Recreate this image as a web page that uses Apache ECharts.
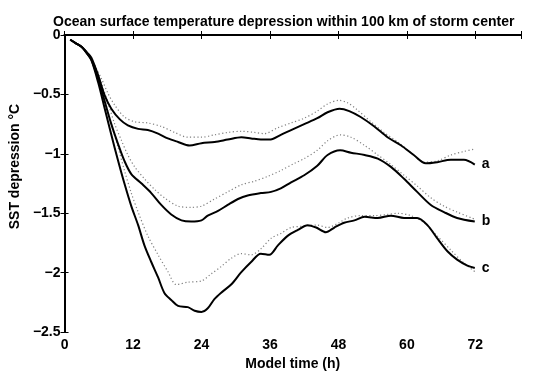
<!DOCTYPE html>
<html>
<head>
<meta charset="utf-8">
<script src="https://cdn.jsdelivr.net/npm/echarts@6/dist/echarts.min.js"></script>
<style>html,body{margin:0;padding:0;background:#fff}#c{width:541px;height:376px}</style>
</head>
<body>
<div id="c"></div>
<script>
var titleText = 'Ocean surface temperature depression within 100 km of storm center';
var xName = 'Model time (h)';
var yName = 'SST depression \u00B0C';
var xTicks = [0, 12, 24, 36, 48, 60, 72];
var yTicks = [0, -0.5, -1, -1.5, -2, -2.5];
var curveLabels = ['a', 'b', 'c'];

// [time (h), SST depression (°C)]
var aSolid = [[1,-0.04],[2,-0.07],[3,-0.10],[4,-0.15],[4.7,-0.19],[5.9,-0.34],[7.05,-0.51],[8.2,-0.62],[9.7,-0.71],[11.1,-0.76],[12.9,-0.79],[14.6,-0.80],[16.4,-0.83],[18.1,-0.87],[19.9,-0.90],[21.9,-0.93],[24,-0.91],[26.3,-0.90],[28.6,-0.88],[31,-0.86],[32.7,-0.87],[34.4,-0.88],[35.9,-0.88],[37.9,-0.84],[39.7,-0.80],[42,-0.75],[44.3,-0.70],[46.1,-0.65],[48.2,-0.62],[49.9,-0.64],[51.9,-0.69],[54.3,-0.77],[56.6,-0.86],[59,-0.93],[61.2,-1.01],[63.3,-1.08],[65.3,-1.07],[67.7,-1.05],[70,-1.05],[71.9,-1.09]];
var aDotted = [[1,-0.04],[2,-0.07],[3,-0.10],[4,-0.15],[5.3,-0.26],[6.5,-0.37],[7.6,-0.49],[8.8,-0.59],[10.5,-0.69],[12.3,-0.73],[14.6,-0.74],[17,-0.77],[19.3,-0.82],[21.6,-0.86],[24,-0.86],[26.3,-0.84],[28.6,-0.82],[31,-0.81],[33.3,-0.82],[35,-0.83],[37.4,-0.78],[39.7,-0.74],[42,-0.70],[44.3,-0.64],[46.1,-0.58],[48.1,-0.55],[49.6,-0.57],[51.3,-0.63],[53.7,-0.73],[56,-0.82],[58.4,-0.90],[60.7,-0.99],[63,-1.07],[65.3,-1.06],[67.7,-1.01],[70,-0.98],[71.9,-0.96]];
var bSolid = [[1,-0.04],[2,-0.07],[3,-0.10],[4,-0.16],[4.7,-0.21],[5.9,-0.37],[7.05,-0.56],[8.2,-0.75],[9.4,-0.92],[10.5,-1.06],[11.7,-1.17],[13.5,-1.25],[15.2,-1.33],[16.95,-1.43],[18.7,-1.51],[20.5,-1.56],[22.2,-1.57],[24,-1.56],[25.1,-1.52],[26.9,-1.48],[28.6,-1.43],[30.4,-1.38],[32.1,-1.35],[34.4,-1.33],[36.2,-1.32],[37.9,-1.29],[39.7,-1.24],[42,-1.18],[44.3,-1.10],[46.1,-1.01],[48.3,-0.97],[50.2,-0.99],[52.6,-1.01],[54.9,-1.04],[57.2,-1.11],[59.5,-1.21],[61.8,-1.32],[64.2,-1.43],[66.5,-1.49],[68.8,-1.54],[71.9,-1.57]];
var bDotted = [[1,-0.04],[2,-0.07],[3,-0.10],[4,-0.15],[5.3,-0.26],[6.5,-0.41],[7.6,-0.57],[8.8,-0.75],[10,-0.89],[11.1,-1.01],[12.3,-1.11],[14,-1.21],[15.8,-1.30],[17.5,-1.37],[19.9,-1.44],[22.2,-1.45],[24,-1.44],[26.3,-1.38],[28.6,-1.32],[31,-1.26],[33.3,-1.23],[35.6,-1.19],[37.9,-1.14],[40.3,-1.08],[42,-1.04],[44.3,-0.97],[46.1,-0.89],[48.3,-0.84],[50.2,-0.86],[52.6,-0.93],[54.9,-1.01],[57.2,-1.09],[59.5,-1.18],[61.8,-1.27],[64.2,-1.37],[66.5,-1.44],[68.8,-1.49],[71.9,-1.55]];
var cSolid = [[1,-0.04],[2,-0.07],[3,-0.10],[4,-0.16],[4.7,-0.21],[5.9,-0.40],[7.05,-0.62],[8.2,-0.84],[9.4,-1.06],[10.5,-1.25],[11.7,-1.44],[12.9,-1.60],[14,-1.77],[15.2,-1.91],[16.4,-2.04],[17.5,-2.17],[18.7,-2.23],[19.9,-2.28],[21.6,-2.29],[22.8,-2.32],[24,-2.33],[25.1,-2.30],[26.3,-2.22],[27.4,-2.17],[29.2,-2.10],[30.9,-2.00],[32.7,-1.91],[34.4,-1.84],[35.9,-1.85],[37.4,-1.77],[39.1,-1.69],[40.9,-1.64],[42.6,-1.60],[44.1,-1.62],[45.8,-1.66],[47.3,-1.62],[49,-1.58],[50.8,-1.56],[52.6,-1.53],[54.9,-1.54],[57.2,-1.52],[59.5,-1.54],[61.8,-1.54],[63.6,-1.60],[65.3,-1.71],[67.1,-1.82],[68.8,-1.89],[70.6,-1.94],[71.9,-1.96]];
var cDotted = [[1,-0.04],[2,-0.07],[3,-0.10],[4,-0.15],[5.3,-0.26],[5.9,-0.37],[7.05,-0.55],[8.2,-0.75],[9.4,-0.95],[10.5,-1.14],[11.7,-1.33],[12.9,-1.49],[14.6,-1.69],[16.4,-1.85],[18.1,-1.99],[19.6,-2.10],[21.6,-2.08],[24,-2.07],[25.7,-2.01],[27.4,-1.95],[29.2,-1.88],[30.9,-1.84],[32.7,-1.85],[34.4,-1.80],[36.2,-1.71],[37.9,-1.67],[39.7,-1.62],[41.5,-1.61],[44.3,-1.60],[46.1,-1.62],[48.1,-1.58],[49.6,-1.54],[51.9,-1.52],[54.3,-1.52],[56.6,-1.51],[58.4,-1.50],[60.7,-1.52],[63,-1.58],[65.3,-1.69],[67.7,-1.81],[70,-1.92],[71.9,-1.99]];

var FONT = 'Liberation Sans, Arial, Helvetica, sans-serif';
var FS = 14;
function fmtNum(v) {
  return String(v).replace('-', '\u2212');
}
var chart = echarts.init(document.getElementById('c'), null, {renderer: 'canvas'});

function solid(data, label) {
  return {
    type: 'line', data: data, xAxisIndex: 0, yAxisIndex: 0,
    showSymbol: false, symbol: 'none', smooth: 0.3, z: 3,
    lineStyle: {color: '#000', width: 2},
    endLabel: {show: true, formatter: label, distance: 7,
      fontFamily: FONT, fontWeight: 'bold', fontSize: FS, color: '#000'}
  };
}
function dotted(data) {
  return {
    type: 'line', data: data, xAxisIndex: 0, yAxisIndex: 0,
    showSymbol: false, symbol: 'none', smooth: 0.3, z: 2,
    lineStyle: {color: '#808080', width: 1.2, type: [1.2, 2.4]}
  };
}
var axisLineStyle = {lineStyle: {color: '#000', width: 2}};
var tickStyle = {inside: true, length: 4, lineStyle: {color: '#000', width: 1}};

chart.setOption({
  animation: false,
  backgroundColor: '#fff',
  title: {
    text: titleText, left: 48, top: 10,
    textStyle: {fontFamily: FONT, fontWeight: 'bold', fontSize: FS, color: '#000'}
  },
  grid: {left: 63, right: 20, top: 35, bottom: 37, containLabel: false},
  xAxis: [{
    type: 'value', min: 0, max: 80, interval: 12, position: 'bottom',
    name: xName, nameLocation: 'middle', nameGap: 21,
    nameTextStyle: {fontFamily: FONT, fontWeight: 'bold', fontSize: FS, color: '#000'},
    axisLine: axisLineStyle, axisTick: tickStyle, splitLine: {show: false},
    axisLabel: {fontFamily: FONT, fontWeight: 'bold', fontSize: FS, color: '#000', margin: 6,
      formatter: function (v) { return xTicks.indexOf(v) >= 0 ? String(v) : ''; }}
  }, {
    type: 'value', min: 0, max: 80, interval: 12, position: 'top',
    axisLine: axisLineStyle, axisTick: tickStyle, splitLine: {show: false},
    axisLabel: {show: false}
  }],
  yAxis: [{
    type: 'value', min: -2.5, max: 0, interval: 0.5, position: 'left',
    name: yName, nameLocation: 'middle', nameGap: 38, nameRotate: 90,
    nameTextStyle: {fontFamily: FONT, fontWeight: 'bold', fontSize: FS, color: '#000', padding: [0, 0, 0, 34]},
    axisLine: axisLineStyle, axisTick: tickStyle, splitLine: {show: false},
    axisLabel: {fontFamily: FONT, fontWeight: 'bold', fontSize: FS, color: '#000', margin: 4,
      formatter: function (v) { return yTicks.indexOf(v) >= 0 ? fmtNum(v) : ''; }}
  }, {
    type: 'value', min: -2.5, max: 0, interval: 0.5, position: 'right',
    axisLine: axisLineStyle, axisTick: tickStyle, splitLine: {show: false},
    axisLabel: {show: false}
  }],
  series: [
    dotted(aDotted), dotted(bDotted), dotted(cDotted),
    solid(aSolid, curveLabels[0]), solid(bSolid, curveLabels[1]), solid(cSolid, curveLabels[2])
  ]
});
</script>
</body>
</html>
